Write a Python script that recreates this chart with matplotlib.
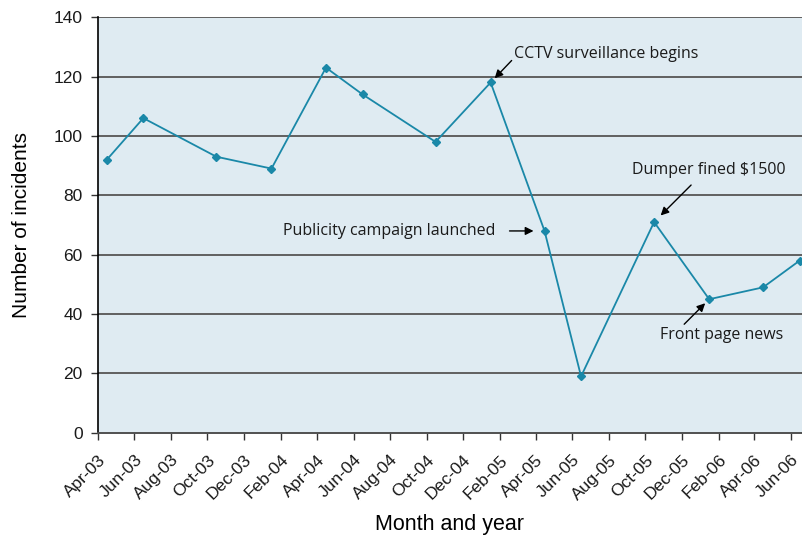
import matplotlib
matplotlib.use('Agg')
import matplotlib.pyplot as plt
import pandas as pd

# ============================================================
# DATA
# ============================================================
point_dates = ['2003-04-16', '2003-06-16', '2003-10-16', '2004-01-16',
               '2004-04-16', '2004-06-16', '2004-10-16', '2005-01-16',
               '2005-04-16', '2005-06-16', '2005-10-16', '2006-01-16',
               '2006-04-16', '2006-06-16']
incidents = [92, 106, 93, 89, 123, 114, 98, 118, 68, 19, 71, 45, 49, 58]

tick_dates = pd.date_range('2003-04-01', '2006-06-01', freq='2MS')
tick_labels = ['Apr-03', 'Jun-03', 'Aug-03', 'Oct-03', 'Dec-03', 'Feb-04',
               'Apr-04', 'Jun-04', 'Aug-04', 'Oct-04', 'Dec-04', 'Feb-05',
               'Apr-05', 'Jun-05', 'Aug-05', 'Oct-05', 'Dec-05', 'Feb-06',
               'Apr-06', 'Jun-06']

# (label, index of point, arrow tip offset, arrow tail offset, text offset, ha)
notes = [
    ('CCTV surveillance begins', 7, (3, 5), (21, 22), (23, 28), 'left'),
    ('Publicity campaign launched', 8, (-11, 0), (-35, 0), (-49, 0), 'right'),
    ('Dumper fined $1500', 10, (6, 7), (37, 37), (55, 52), 'center'),
    ('Front page news', 11, (-4, -4), (-25, -25), (12, -36), 'center'),
]

x = pd.to_datetime(point_dates)

# ============================================================
# FIGURE
# ============================================================
fig = plt.figure(figsize=(8.02, 5.37), dpi=100)
ax = fig.add_axes([0.122, 0.194, 0.878, 0.774])
ax.set_facecolor('#dfebf2')

for yv in range(20, 141, 20):
    ax.axhline(yv, color='#606060', linewidth=1.4, zorder=1)

ax.plot(x, incidents, color='#1a88a8', linewidth=1.3, marker='D',
        markersize=4.5, zorder=3, clip_on=False)

# ============================================================
# ANNOTATIONS
# ============================================================
note_font = dict(family='Open Sans', size=11.5, color='#1a1a1a')
for label, idx, tip, tail, txt, ha in notes:
    ax.annotate('', xy=(x[idx], incidents[idx]), xytext=tail,
                textcoords='offset pixels',
                arrowprops=dict(arrowstyle='-|>', color='black', lw=1,
                                mutation_scale=12, shrinkA=0,
                                shrinkB=(tip[0] ** 2 + tip[1] ** 2) ** 0.5 * 0.72))
    ax.annotate(label, xy=(x[idx], incidents[idx]), xytext=txt,
                textcoords='offset pixels', ha=ha, va='center', **note_font)

# ============================================================
# AXES
# ============================================================
ax.set_ylim(0, 140)
ax.set_yticks(range(0, 141, 20))
ax.set_xlim(pd.Timestamp('2003-04-01'), pd.Timestamp('2006-06-20'))
ax.set_xticks(tick_dates)
ax.set_xticklabels(tick_labels, rotation=45, ha='right',
                   rotation_mode='anchor')

for lab in ax.get_xticklabels() + ax.get_yticklabels():
    lab.set_family('Liberation Sans')
    lab.set_fontsize(12.5)
    lab.set_color('#1a1a1a')

ax.tick_params(axis='both', direction='out', length=5, width=1,
               color='#333333')
ax.tick_params(axis='x', pad=9)
ax.tick_params(axis='y', pad=6)

for side in ['top', 'right']:
    ax.spines[side].set_visible(False)
ax.spines['left'].set_color('black')
ax.spines['left'].set_linewidth(1.2)
ax.spines['bottom'].set_color('#505050')
ax.spines['bottom'].set_linewidth(1.4)

ax.set_xlabel('Month and year', family='Liberation Sans', fontsize=15.5,
              labelpad=8)
ax.set_ylabel('Number of incidents', family='Liberation Sans',
              fontsize=15, labelpad=16)

plt.savefig('out.png', dpi=100)
